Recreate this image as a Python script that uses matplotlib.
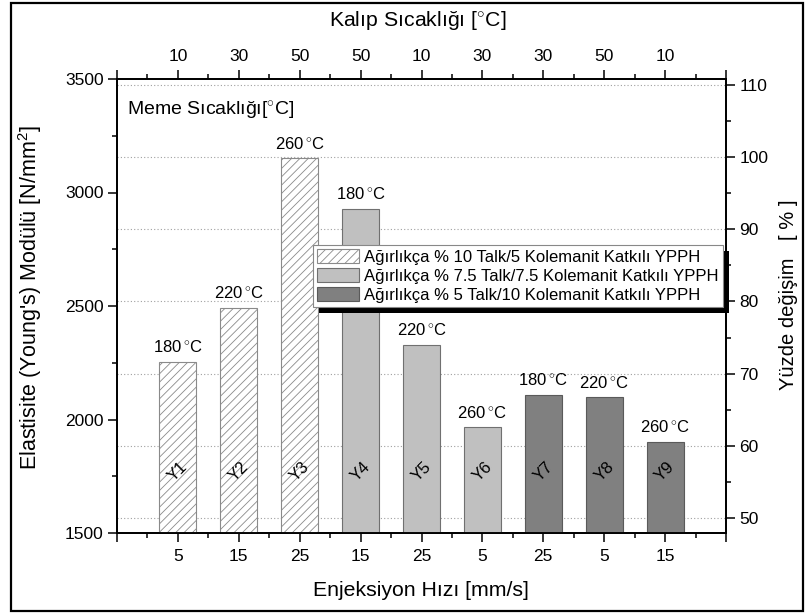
import matplotlib
matplotlib.use("Agg")
import matplotlib.pyplot as plt
from matplotlib.patches import Rectangle, Patch
from matplotlib.transforms import IdentityTransform
from matplotlib.ticker import MultipleLocator, FixedLocator, NullFormatter

plt.rcParams['font.family'] = ['Liberation Sans', 'DejaVu Sans']
plt.rcParams['mathtext.fontset'] = 'custom'
plt.rcParams['mathtext.rm'] = 'Liberation Sans'
plt.rcParams['mathtext.it'] = 'Liberation Sans:italic'
plt.rcParams['mathtext.bf'] = 'Liberation Sans:bold'
plt.rcParams['hatch.linewidth'] = 0.6

# ---- data ----
samples = ["Y1", "Y2", "Y3", "Y4", "Y5", "Y6", "Y7", "Y8", "Y9"]
modulus = [2252, 2493, 3150, 2929, 2330, 1965, 2106, 2097, 1902]
nozzle_temp = ["180", "220", "260", "180", "220", "260", "180", "220", "260"]
injection_speed = ["5", "15", "25", "15", "25", "5", "25", "5", "15"]
mold_temp = ["10", "30", "50", "50", "10", "30", "30", "50", "10"]
groups = [0, 0, 0, 1, 1, 1, 2, 2, 2]
group_labels = [
    "Ağırlıkça % 10 Talk/5 Kolemanit Katkılı YPPH",
    "Ağırlıkça % 7.5 Talk/7.5 Kolemanit Katkılı YPPH",
    "Ağırlıkça % 5 Talk/10 Kolemanit Katkılı YPPH",
]

W, H = 805, 613
fig = plt.figure(figsize=(W / 100, H / 100), dpi=100)

def fx(px):
    return px / W

def fy(py):
    return 1 - py / H

L, R, T, B = 117, 726, 79, 533
ax = fig.add_axes([fx(L), fy(B), fx(R) - fx(L), fy(T) - fy(B)])
ax2 = ax.twinx()
ax3 = ax.twiny()

ax.set_zorder(ax2.get_zorder() + 1)
ax.patch.set_visible(False)
ax3.set_zorder(ax.get_zorder() + 1)
ax3.patch.set_visible(False)

styles = [
    dict(facecolor='white', edgecolor='#8a8a8a', hatch='////'),
    dict(facecolor='#c0c0c0', edgecolor='#707070'),
    dict(facecolor='#808080', edgecolor='#5a5a5a'),
]

xs = list(range(1, len(samples) + 1))
for x, v, g in zip(xs, modulus, groups):
    ax.bar(x, v - 1500, bottom=1500, width=0.61, linewidth=0.8, zorder=2, **styles[g])

for x, v, t in zip(xs, modulus, nozzle_temp):
    ax.annotate(t + r"$\,^{\circ}$C", (x, v), xytext=(0, 5), textcoords='offset points',
                ha='center', va='bottom', fontsize=12, zorder=3)

for x, s in zip(xs, samples):
    ax.text(x, 1771, s, rotation=45, ha='center', va='center', fontsize=12, zorder=3)

ax.text(0.016, 0.929, r"Meme Sıcaklığı[$^{\circ}$C]", transform=ax.transAxes,
        ha='left', va='center', fontsize=14)

# axes limits & ticks
ax.set_xlim(0, 10)
ax.set_ylim(1500, 3500)
ax.yaxis.set_major_locator(MultipleLocator(500))
ax.yaxis.set_minor_locator(MultipleLocator(250))
ax.xaxis.set_major_locator(FixedLocator(list(range(0, 11))))
ax.xaxis.set_minor_locator(MultipleLocator(0.5))
ax.set_xticklabels([""] + injection_speed + [""])

ax3.set_xlim(0, 10)
ax3.xaxis.set_major_locator(FixedLocator(list(range(0, 11))))
ax3.xaxis.set_minor_locator(MultipleLocator(0.5))
ax3.set_xticklabels([""] + mold_temp + [""])

ax2.set_ylim(47.92, 110.83)
ax2.yaxis.set_major_locator(MultipleLocator(10))
ax2.yaxis.set_minor_locator(MultipleLocator(5))
ax2.grid(axis='y', which='major', linestyle=(0, (1, 2)), color='#a0a0a0', linewidth=0.8)

for a in (ax, ax2, ax3):
    a.tick_params(which='major', direction='out', length=6.5, width=1.1, labelsize=12.5, pad=3)
    a.tick_params(which='minor', direction='out', length=3.5, width=1.1)
    for sp in a.spines.values():
        sp.set_linewidth(1.1)
ax.tick_params(axis='x', which='major', pad=5)
ax3.tick_params(axis='x', which='major', pad=4)
ax.xaxis.set_minor_formatter(NullFormatter())
ax3.xaxis.set_minor_formatter(NullFormatter())

# labels
fig.text(fx(421), fy(591), "Enjeksiyon Hızı [mm/s]", ha='center', va='center', fontsize=15.3)
fig.text(fx(418), fy(20), r"Kalıp Sıcaklığı [$^{\circ}$C]", ha='center', va='center', fontsize=15.3)
fig.text(fx(30), fy(298), r"Elastisite (Young's) Modülü [N/mm$^2$]", ha='center', va='center',
         rotation=90, fontsize=15.5)
fig.text(fx(788), fy(324), "Yüzde değişim", ha='center', va='center', rotation=90, fontsize=14.5)
fig.text(fx(788), fy(220), "[ % ]", ha='center', va='center', rotation=90, fontsize=14.5)

# legend
handles = [Patch(linewidth=0.8, **styles[i]) for i in range(3)]
leg = ax.legend(handles, group_labels, loc='upper left',
                bbox_to_anchor=(fx(313), fy(245)), bbox_transform=fig.transFigure,
                fontsize=12, frameon=True, fancybox=False, shadow=False, framealpha=1,
                facecolor='white', edgecolor='#888888',
                borderpad=0.25, labelspacing=0.2, handlelength=2.5, handleheight=0.9,
                handletextpad=0.3, borderaxespad=0)
leg.get_frame().set_linewidth(0.8)
leg.set_zorder(10)

fig.canvas.draw()
bb = leg.get_window_extent()
shadow = Rectangle((bb.x0 + 6, bb.y0 - 6), bb.width, bb.height, transform=IdentityTransform(),
                   facecolor='black', edgecolor='none', zorder=9, clip_on=False)
ax.add_patch(shadow)

# outer border
fig.patches.append(Rectangle((fx(11), fy(611)), fx(803) - fx(11), fy(3) - fy(611),
                             transform=fig.transFigure, fill=False, edgecolor='black',
                             linewidth=1.6))

fig.savefig("out.png", dpi=100)
